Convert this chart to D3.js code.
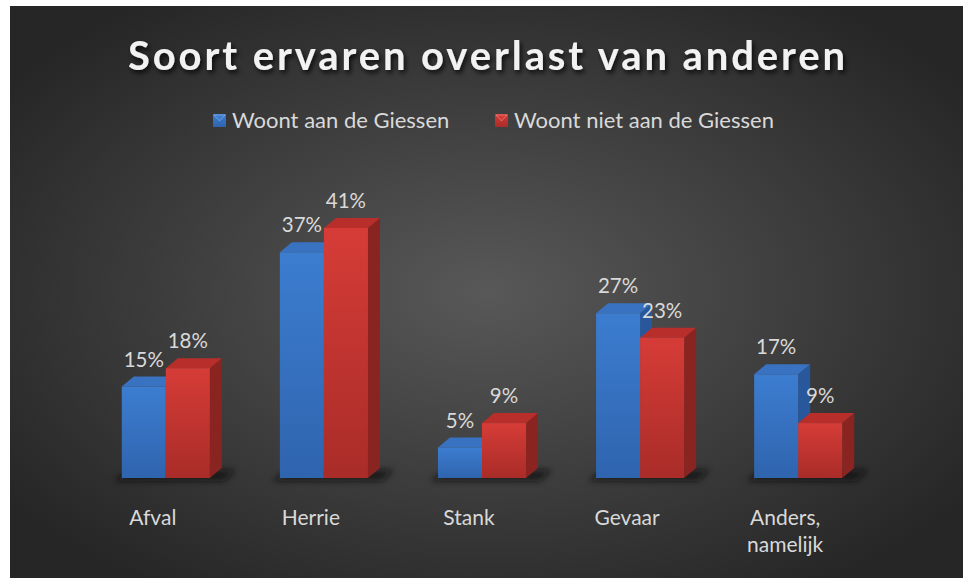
<!DOCTYPE html>
<html>
<head>
<meta charset="utf-8">
<script src="https://cdn.jsdelivr.net/npm/d3@7"></script>
<style>
  body { margin: 0; background: #fff; }
  #chart { position: absolute; left: 0; top: 0; }
</style>
</head>
<body>
<div id="chart"></div>
<script>
// data
const categories = ["Afval", "Herrie", "Stank", "Gevaar", "Anders, namelijk"];
const seriesNames = ["Woont aan de Giessen", "Woont niet aan de Giessen"];
const aanGiessen = [15, 37, 5, 27, 17];
const nietAanGiessen = [18, 41, 9, 23, 9];

const svgWidth = 963;
const svgHeight = 578;
const depthX = 12, depthY = 10;

const svg = d3.select("#chart").append("svg")
    .attr("width", svgWidth)
    .attr("height", svgHeight);

const defs = svg.append("defs");

// background gradient
const bg = defs.append("radialGradient")
    .attr("id", "bg")
    .attr("cx", "50%").attr("cy", "50%").attr("r", "62%");
bg.append("stop").attr("offset", "0%").attr("stop-color", "#585858");
bg.append("stop").attr("offset", "100%").attr("stop-color", "#262626");

const colors = [
    { front: ["#3c7dd0", "#2f64ae"], top: "#3a72c2", side: "#28579c" },
    { front: ["#d63c37", "#a92c28"], top: "#b82e2a", side: "#8a2420" }
];
colors.forEach((c, i) => {
    const g = defs.append("linearGradient")
        .attr("id", "front" + i)
        .attr("x1", 0).attr("y1", 0).attr("x2", 0).attr("y2", 1);
    g.append("stop").attr("offset", "0%").attr("stop-color", c.front[0]);
    g.append("stop").attr("offset", "100%").attr("stop-color", c.front[1]);
});

const shadow = defs.append("filter").attr("id", "textShadow")
    .attr("x", "-10%").attr("y", "-30%").attr("width", "120%").attr("height", "160%");
shadow.append("feDropShadow")
    .attr("dx", 2).attr("dy", 3).attr("stdDeviation", 2.5)
    .attr("flood-color", "#000").attr("flood-opacity", 0.8);

const blur = defs.append("filter").attr("id", "floorBlur")
    .attr("x", "-20%").attr("y", "-100%").attr("width", "140%").attr("height", "300%");
blur.append("feGaussianBlur").attr("stdDeviation", 3);

svg.append("rect")
    .attr("x", 10).attr("y", 6)
    .attr("width", svgWidth - 10).attr("height", svgHeight - 6)
    .attr("fill", "url(#bg)");

// Title
svg.append("text")
    .attr("x", 488)
    .attr("y", 70)
    .attr("text-anchor", "middle")
    .attr("font-family", "Lato, 'Open Sans', sans-serif")
    .attr("font-weight", "bold")
    .attr("font-size", 40)
    .attr("letter-spacing", 2.9)
    .attr("fill", "#f2f2f2")
    .attr("filter", "url(#textShadow)")
    .text("Soort ervaren overlast van anderen");

// Scales
const x0 = d3.scaleBand()
    .domain(categories)
    .range([87, 877])
    .paddingInner(0.443)
    .paddingOuter(0.22);

const x1 = d3.scaleBand()
    .domain([0, 1])
    .range([0, x0.bandwidth()]);

const y = d3.scaleLinear()
    .domain([0, 45])
    .range([478, 203.5]);

const rows = categories.map((c, i) => ({ cat: c, values: [aanGiessen[i], nietAanGiessen[i]] }));

const chart = svg.append("g");

// floor shadows
chart.selectAll(".floor")
    .data(rows)
    .enter()
    .append("path")
    .attr("class", "floor")
    .attr("d", d => {
        const xl = x0(d.cat) - 8, xr = x0(d.cat) + x0.bandwidth() + depthX + 14;
        const yb = y(0);
        return `M${xl},${yb + 3} L${xr - 12},${yb + 3} L${xr},${yb - depthY + 2} L${xl + 16},${yb - depthY + 2} Z`;
    })
    .attr("fill", "#111")
    .attr("opacity", 0.7)
    .attr("filter", "url(#floorBlur)");

// bars
const groups = chart.selectAll(".group")
    .data(rows)
    .enter()
    .append("g")
    .attr("class", "group")
    .attr("transform", d => `translate(${x0(d.cat)},0)`);

const bars = groups.selectAll(".bar")
    .data(d => d.values.map((v, i) => ({ v, i })))
    .enter()
    .append("g")
    .attr("class", "bar");

bars.append("path")
    .attr("d", d => {
        const xl = x1(d.i) + x1.bandwidth(), yt = y(d.v), yb = y(0);
        return `M${xl},${yt} L${xl + depthX},${yt - depthY} L${xl + depthX},${yb - depthY} L${xl},${yb} Z`;
    })
    .attr("fill", d => colors[d.i].side);

bars.append("path")
    .attr("d", d => {
        const xl = x1(d.i), xr = xl + x1.bandwidth(), yt = y(d.v);
        return `M${xl},${yt} L${xl + depthX},${yt - depthY} L${xr + depthX},${yt - depthY} L${xr},${yt} Z`;
    })
    .attr("fill", d => colors[d.i].top);

bars.append("rect")
    .attr("x", d => x1(d.i))
    .attr("y", d => y(d.v))
    .attr("width", x1.bandwidth())
    .attr("height", d => y(0) - y(d.v))
    .attr("fill", d => `url(#front${d.i})`);

// value labels
bars.append("text")
    .attr("x", d => x1(d.i) + x1.bandwidth() / 2)
    .attr("y", d => y(d.v) - 20)
    .attr("text-anchor", "middle")
    .attr("font-family", "Lato, 'Open Sans', sans-serif")
    .attr("font-size", 20.5)
    .attr("fill", "#d9d9d9")
    .text(d => d.v + "%");

// category labels
const catLabels = chart.selectAll(".cat")
    .data(categories)
    .enter()
    .append("text")
    .attr("class", "cat")
    .attr("x", d => x0(d) + x0.bandwidth() / 2 - 13)
    .attr("y", 525)
    .attr("text-anchor", "middle")
    .attr("font-family", "Lato, 'Open Sans', sans-serif")
    .attr("font-size", 21)
    .attr("fill", "#d9d9d9");

catLabels.each(function(d) {
    const parts = d.split(" ");
    const t = d3.select(this);
    parts.forEach((p, i) => {
        t.append("tspan")
            .attr("x", t.attr("x"))
            .attr("dy", i === 0 ? 0 : 27)
            .text(p);
    });
});

// legend
const legendX = [213, 495];
const legend = svg.selectAll(".legend")
    .data(seriesNames)
    .enter()
    .append("g")
    .attr("class", "legend")
    .attr("transform", (d, i) => `translate(${legendX[i]},114)`);

legend.append("rect")
    .attr("width", 13).attr("height", 13)
    .attr("fill", (d, i) => `url(#front${i})`);
legend.append("path")
    .attr("d", "M1,1 L12,1 L6.5,7 Z")
    .attr("fill", (d, i) => colors[i].front[0])
    .attr("stroke", "rgba(255,255,255,0.35)")
    .attr("stroke-width", 0.8);

legend.append("text")
    .attr("x", 19)
    .attr("y", 14)
    .attr("font-family", "Lato, 'Open Sans', sans-serif")
    .attr("font-size", 22)
    .attr("fill", "#d9d9d9")
    .text(d => d);
</script>
</body>
</html>
